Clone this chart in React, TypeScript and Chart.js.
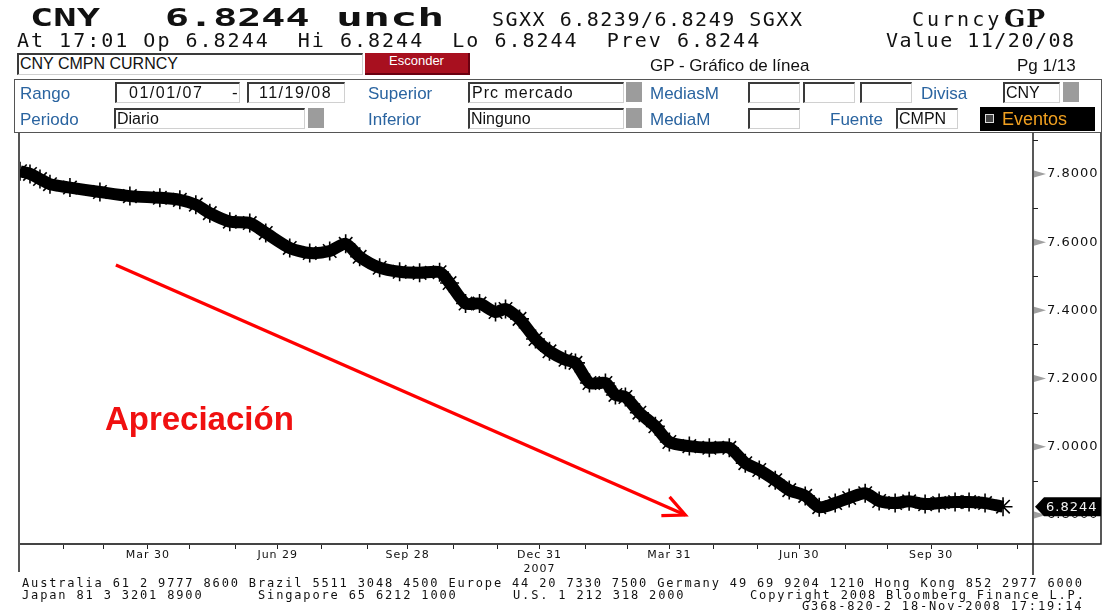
import React, { useEffect, useRef } from "react";
import { Chart, registerables } from "chart.js";

Chart.register(...registerables);

// ---- data (business-day index since 01/01/07, USD/CNY rate) ----
const tradingDay = [0, 5, 10, 15, 25, 40, 55, 70, 80, 88, 95, 105, 115, 123, 135, 145, 155, 163, 170, 180, 190, 200, 210, 215, 223, 230, 238, 243, 250, 258, 265, 273, 278, 285, 293, 298, 303, 310, 318, 325, 335, 345, 355, 363, 370, 378, 385, 393, 400, 408, 415, 423, 430, 438, 445, 453, 460, 468, 475, 483, 492];
const cnyRate = [7.808, 7.8, 7.785, 7.77, 7.76, 7.747, 7.735, 7.73, 7.724, 7.71, 7.685, 7.66, 7.656, 7.627, 7.583, 7.568, 7.574, 7.595, 7.557, 7.525, 7.513, 7.51, 7.512, 7.48, 7.42, 7.42, 7.395, 7.404, 7.375, 7.316, 7.28, 7.255, 7.246, 7.187, 7.187, 7.152, 7.146, 7.1, 7.06, 7.014, 7.002, 6.997, 6.997, 6.952, 6.932, 6.902, 6.873, 6.856, 6.823, 6.835, 6.85, 6.864, 6.841, 6.835, 6.84, 6.832, 6.835, 6.838, 6.838, 6.835, 6.8244];

const xTickDays = [22, 42, 64, 85, 108, 129, 151, 174, 194, 217, 239, 260, 283, 304, 325, 347, 369, 390, 413, 434, 456, 479, 499];
const xTickLabels: (string | string[])[] = ["", "", "Mar 30", "", "", "Jun 29", "", "", "Sep 28", "", "", ["Dec 31", "2007"], "", "", "Mar 31", "", "", "Jun 30", "", "", "Sep 30", "", ""];
const yMajor = [6.8, 7.0, 7.2, 7.4, 7.6, 7.8];
const yMinor = [6.9, 7.1, 7.3, 7.5, 7.7, 7.9];
const lastValue = 6.8244;

const annotationText = "Apreciación";
const textAnchor = [42.5, 7.076];
const arrowFrom = [48, 7.533];
const arrowTo = [333, 6.8];

const MONO = '"DejaVu Sans Mono", monospace';
const UI = '"Liberation Sans", Arial, sans-serif';
const BLUE = "#2a64a0";

const overlayPlugin = {
  id: "overlay",
  beforeDraw(chart: any) {
    chart.ctx.letterSpacing = "1px";
  },
  afterDatasetsDraw(chart: any) {
    const { ctx, scales } = chart;
    const x = scales.x, y = scales.y;
    ctx.save();
    ctx.letterSpacing = "0px";
    const x1 = x.getPixelForValue(arrowFrom[0]);
    const y1 = y.getPixelForValue(arrowFrom[1]);
    const x2 = x.getPixelForValue(arrowTo[0]);
    const y2 = y.getPixelForValue(arrowTo[1]);
    ctx.strokeStyle = "#ff0000";
    ctx.lineWidth = 3.2;
    ctx.beginPath();
    ctx.moveTo(x1, y1);
    ctx.lineTo(x2, y2);
    ctx.stroke();
    const ang = Math.atan2(y2 - y1, x2 - x1);
    const L = 24;
    ctx.beginPath();
    ctx.moveTo(x2 - L * Math.cos(ang - 0.44), y2 - L * Math.sin(ang - 0.44));
    ctx.lineTo(x2, y2);
    ctx.lineTo(x2 - L * Math.cos(ang + 0.44), y2 - L * Math.sin(ang + 0.44));
    ctx.stroke();
    ctx.fillStyle = "#f01010";
    ctx.font = 'bold 33px "Liberation Sans", Arial, sans-serif';
    ctx.textBaseline = "middle";
    ctx.textAlign = "left";
    ctx.fillText(annotationText, x.getPixelForValue(textAnchor[0]), y.getPixelForValue(textAnchor[1]));
    ctx.restore();
  },
  afterDraw(chart: any) {
    const { ctx, chartArea, scales } = chart;
    const y = scales.y;
    const { left, right, top, bottom } = chartArea;
    ctx.save();
    ctx.letterSpacing = "0px";
    // frame
    ctx.strokeStyle = "#555";
    ctx.lineWidth = 2;
    ctx.beginPath();
    ctx.moveTo(left, top);
    ctx.lineTo(left, bottom + 28);
    ctx.stroke();
    ctx.strokeStyle = "#222";
    ctx.lineWidth = 1.5;
    ctx.beginPath();
    ctx.moveTo(right, top);
    ctx.lineTo(right, bottom + 31);
    ctx.moveTo(right + 68, top);
    ctx.lineTo(right + 68, bottom);
    ctx.lineTo(right, bottom);
    ctx.stroke();
    // y tick marks
    for (const v of yMinor) {
      const py = Math.round(y.getPixelForValue(v)) + 0.5;
      ctx.strokeStyle = "#222";
      ctx.lineWidth = 1;
      ctx.beginPath();
      ctx.moveTo(right, py);
      ctx.lineTo(right + 5, py);
      ctx.stroke();
    }
    for (const v of yMajor) {
      const py = y.getPixelForValue(v);
      ctx.fillStyle = "#a0a0a0";
      ctx.beginPath();
      ctx.moveTo(right + 1, py - 3.5);
      ctx.lineTo(right + 13, py);
      ctx.lineTo(right + 1, py + 3.5);
      ctx.closePath();
      ctx.fill();
    }
    // last value tag
    const py = y.getPixelForValue(lastValue);
    ctx.fillStyle = "#000";
    ctx.beginPath();
    ctx.moveTo(right + 2, py);
    ctx.lineTo(right + 11, py - 9.5);
    ctx.lineTo(right + 68, py - 9.5);
    ctx.lineTo(right + 68, py + 9.5);
    ctx.lineTo(right + 11, py + 9.5);
    ctx.closePath();
    ctx.fill();
    ctx.fillStyle = "#f4f4f4";
    ctx.font = '13px "DejaVu Sans", sans-serif';
    ctx.letterSpacing = "1px";
    ctx.textBaseline = "middle";
    ctx.fillText(lastValue.toFixed(4), right + 13, py + 0.5);
    ctx.restore();
    ctx.letterSpacing = "0px";
  },
};

const Txt = ({ l, t, c = "#111", f, ls = 0, children, extra = {} }: any) => (
  <div style={{ position: "absolute", left: l, top: t, color: c, font: f, letterSpacing: ls, whiteSpace: "pre", lineHeight: 1, ...extra }}>{children}</div>
);

const Field = ({ l, t, w, h = 21, text = "", pl = 3, ls = 0 }: any) => (
  <div
    style={{
      position: "absolute", left: l, top: t, width: w, height: h, boxSizing: "border-box",
      borderTop: "2px solid #3a3a3a", borderLeft: "2px solid #3a3a3a",
      borderRight: "1px solid #d0d0d0", borderBottom: "1px solid #d0d0d0",
      background: "#fff", font: `16px ${UI}`, lineHeight: `${h - 4}px`, paddingLeft: pl,
      color: "#111", letterSpacing: ls, whiteSpace: "pre", overflow: "hidden",
    }}
  >
    {text}
  </div>
);

const Sq = ({ l, t }: any) => (
  <div style={{ position: "absolute", left: l, top: t, width: 16, height: 20, background: "#9c9c9c" }} />
);

const bigHead = (l: number, s: number, text: string) => (
  <Txt l={l} t={5} f={`bold 25px ${MONO}`} extra={{ transform: `scaleX(${s})`, transformOrigin: "left top" }}>{text}</Txt>
);

export default function App() {
  const ref = useRef<HTMLCanvasElement>(null);
  useEffect(() => {
    if (!ref.current) return;
    const chart = new Chart(ref.current, {
      type: "line",
      data: {
        datasets: [
          {
            data: tradingDay.map((d, i) => ({ x: d, y: cnyRate[i] })),
            borderColor: "#000",
            backgroundColor: "#000",
            borderWidth: 12,
            pointStyle: "star",
            pointRadius: 9.5,
            pointBorderWidth: 1.6,
            pointBorderColor: "#000",
            tension: 0.25,
          } as any,
        ],
      },
      options: {
        responsive: false,
        animation: false,
        devicePixelRatio: 1,
        layout: { padding: { top: 133, left: 19, right: 9, bottom: 43 } },
        plugins: { legend: { display: false }, tooltip: { enabled: false } },
        scales: {
          x: {
            type: "linear",
            min: -0.5,
            max: 507,
            grid: { display: true, drawOnChartArea: false, drawTicks: true, tickLength: 5, color: "#222", lineWidth: 1 },
            border: { display: true, color: "#444", width: 2 },
            afterBuildTicks: (s: any) => {
              s.ticks = xTickDays.map((v) => ({ value: v }));
            },
            ticks: {
              autoSkip: false,
              maxRotation: 0,
              minRotation: 0,
              padding: 0,
              color: "#111",
              font: { family: "DejaVu Sans", size: 11 },
              callback: (v: any) => {
                const i = xTickDays.indexOf(v);
                return i >= 0 ? xTickLabels[i] : "";
              },
            },
            afterFit: (s: any) => {
              s.height = 28;
              s.paddingLeft = 0;
              s.paddingRight = 0;
            },
          } as any,
          y: {
            position: "right",
            min: 6.715,
            max: 7.92,
            grid: { display: false, drawTicks: false },
            border: { display: false },
            afterBuildTicks: (s: any) => {
              s.ticks = [...yMinor, ...yMajor].sort((a, b) => a - b).map((v) => ({ value: v }));
            },
            ticks: {
              padding: 14,
              color: "#111",
              font: { family: "DejaVu Sans", size: 13 },
              callback: (v: any) => (yMajor.some((m) => Math.abs(m - v) < 1e-6) ? Number(v).toFixed(4) : ""),
            },
            afterFit: (s: any) => {
              s.width = 68;
              s.paddingTop = 0;
              s.paddingBottom = 0;
            },
          } as any,
        },
      },
      plugins: [overlayPlugin as any],
    });
    return () => chart.destroy();
  }, []);

  return (
    <div style={{ position: "fixed", left: 0, top: 0, width: 1110, height: 615, background: "#fff", overflow: "hidden" }}>
      <canvas ref={ref} width={1110} height={615} style={{ position: "absolute", left: 0, top: 0, width: 1110, height: 615 }} />
      {/* header line 1 */}
      {bigHead(30, 1.55, "CNY")}
      {bigHead(165, 1.6, "6.8244")}
      {bigHead(336, 1.8, "unch")}
      <Txt l={492} t={9} f={`20px ${MONO}`} ls="1.5px">{"SGXX 6.8239/6.8249 SGXX"}</Txt>
      <Txt l={912} t={9} f={`20px ${MONO}`} ls="3px">{"Curncy"}</Txt>
      <Txt l={1004} t={6} f={`bold 25px "DejaVu Serif", serif`} ls="1px">{"GP"}</Txt>
      {/* header line 2 */}
      <Txt l={17} t={30} f={`20px ${MONO}`} ls="2px">{"At 17:01 Op 6.8244  Hi 6.8244  Lo 6.8244  Prev 6.8244"}</Txt>
      <Txt l={886} t={30} f={`20px ${MONO}`} ls="1.5px">{"Value 11/20/08"}</Txt>
      {/* row 3 */}
      <Field l={17} t={53} w={346} h={22} text="CNY CMPN CURNCY" pl={1} />
      <div style={{ position: "absolute", left: 365, top: 53, width: 105, height: 22, boxSizing: "border-box", background: "#a8101f", borderBottom: "2px solid #6a0010", borderRight: "2px solid #6a0010", color: "#fff", font: `13px ${UI}`, textAlign: "center", lineHeight: "16px" }}>Esconder</div>
      <Txt l={650} t={57} f={`17px ${UI}`}>{"GP - Gráfico de línea"}</Txt>
      <Txt l={1017} t={57} f={`17px ${UI}`}>{"Pg 1/13"}</Txt>
      {/* fields box */}
      <div style={{ position: "absolute", left: 14, top: 79, width: 1088, height: 54, boxSizing: "border-box", border: "1px solid #555" }} />
      <Txt l={20} t={85} c={BLUE} f={`17px ${UI}`}>Rango</Txt>
      <Field l={115} t={82} w={125} text="01/01/07" pl={12} ls="1.5px" />
      <Txt l={232} t={84} f={`17px ${UI}`}>-</Txt>
      <Field l={247} t={82} w={98} text="11/19/08" pl={10} ls="1.5px" />
      <Txt l={368} t={85} c={BLUE} f={`17px ${UI}`}>Superior</Txt>
      <Field l={468} t={82} w={156} text="Prc mercado" pl={2} ls="1px" />
      <Sq l={626} t={82} />
      <Txt l={650} t={85} c={BLUE} f={`17px ${UI}`}>MediasM</Txt>
      <Field l={748} t={82} w={52} />
      <Field l={803} t={82} w={52} />
      <Field l={860} t={82} w={52} />
      <Txt l={921} t={85} c={BLUE} f={`17px ${UI}`}>Divisa</Txt>
      <Field l={1003} t={82} w={57} text="CNY" pl={1} />
      <Sq l={1063} t={82} />

      <Txt l={20} t={111} c={BLUE} f={`17px ${UI}`}>Periodo</Txt>
      <Field l={114} t={108} w={191} text="Diario" pl={1} />
      <Sq l={308} t={108} />
      <Txt l={368} t={111} c={BLUE} f={`17px ${UI}`}>Inferior</Txt>
      <Field l={468} t={108} w={156} text="Ninguno" pl={1} />
      <Sq l={626} t={108} />
      <Txt l={650} t={111} c={BLUE} f={`17px ${UI}`}>MediaM</Txt>
      <Field l={748} t={108} w={52} />
      <Txt l={830} t={111} c={BLUE} f={`17px ${UI}`}>Fuente</Txt>
      <Field l={896} t={108} w={62} text="CMPN" pl={1} />
      <div style={{ position: "absolute", left: 980, top: 107, width: 115, height: 24, background: "#000" }}>
        <div style={{ position: "absolute", left: 5, top: 7, width: 9, height: 9, boxSizing: "border-box", border: "1px solid #ddd", background: "#444" }} />
        <div style={{ position: "absolute", left: 22, top: 3, color: "#f0a020", font: `18px ${UI}`, lineHeight: 1 }}>Eventos</div>
      </div>
      {/* footer */}
      <Txt l={22} t={577} f={`12px ${MONO}`} ls="1.85px">{"Australia 61 2 9777 8600 Brazil 5511 3048 4500 Europe 44 20 7330 7500 Germany 49 69 9204 1210 Hong Kong 852 2977 6000"}</Txt>
      <Txt l={22} t={589} f={`12px ${MONO}`} ls="1.85px">{"Japan 81 3 3201 8900"}</Txt>
      <Txt l={258} t={589} f={`12px ${MONO}`} ls="1.85px">{"Singapore 65 6212 1000"}</Txt>
      <Txt l={513} t={589} f={`12px ${MONO}`} ls="1.85px">{"U.S. 1 212 318 2000"}</Txt>
      <Txt l={750} t={589} f={`12px ${MONO}`} ls="1.85px">{"Copyright 2008 Bloomberg Finance L.P."}</Txt>
      <Txt l={802} t={600} f={`12px ${MONO}`} ls="1.85px">{"G368-820-2 18-Nov-2008 17:19:14"}</Txt>
    </div>
  );
}
